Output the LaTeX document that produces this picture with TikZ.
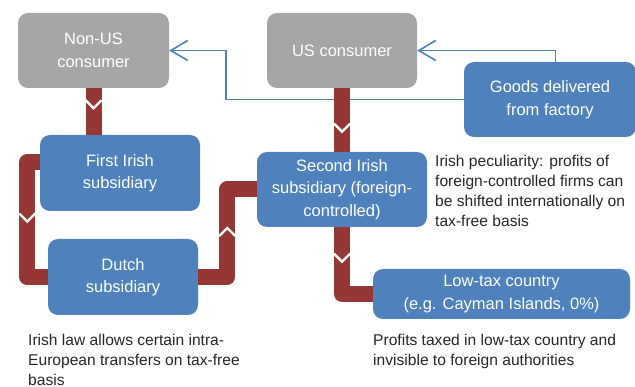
\documentclass[tikz,border=0pt]{standalone}
\usepackage{fontspec}
\setmainfont{Liberation Sans}
\usetikzlibrary{arrows.meta, decorations.markings}
\definecolor{boxblue}{HTML}{4F81BD}
\definecolor{boxgray}{HTML}{A6A6A6}
\definecolor{flowred}{HTML}{953735}
\definecolor{notegray}{HTML}{262626}

\begin{document}
\begin{tikzpicture}[x=1pt, y=-1pt] \tikzset{>={Straight Barb[length=17pt,width=20pt,line width=1.6pt]},
  unit/.style={rectangle, rounded corners=10pt, fill=boxblue, text=white, align=center, inner sep=0pt, font=\fontsize{16.5}{22.5}\selectfont},
  grayunit/.style={unit, fill=boxgray},
  note/.style={anchor=north west, align=left, inner sep=0pt, text=notegray, font=\fontsize{15.6}{20}\selectfont},
  flow/.style={draw=flowred, line width=16pt, line join=round, postaction={decorate},
    decoration={markings, mark=at position #1 with {\draw[white, line width=2.4pt, line join=miter] (-4,-8) -- (4,0) -- (-4,8);}}},
  goodsline/.style={draw=boxblue, line width=1.8pt, ->}}
\useasboundingbox (0,0) rectangle (635,387);
\node[grayunit, minimum width=151pt, minimum height=75pt] (nonus) at (93.5,50.5) {Non-US\\consumer};
\node[grayunit, minimum width=150pt, minimum height=75pt] (us) at (342,50.5) {US consumer};
\node[unit, minimum width=172pt, minimum height=75pt] (goods) at (550,99.5) {Goods delivered\\from factory};
\node[unit, minimum width=160pt, minimum height=76pt] (first) at (120,173) {First Irish\\subsidiary};
\node[unit, minimum width=170pt, minimum height=75pt] (second) at (342,189.5) {Second Irish\\subsidiary (foreign-\\controlled)};
\node[unit, minimum width=150pt, minimum height=76pt] (dutch) at (123,277) {Dutch\\subsidiary};
\node[unit, minimum width=257pt, minimum height=50pt] (lowtax) at (501.5,294) {Low-tax country\\(e.g. Cayman Islands, 0\%)};
\draw[goodsline] (goods.west) -- ++(-238,0) |- (nonus.east);
\draw[goodsline] ([xshift=5.5pt]goods.north) |- (us.east);
\draw[flow=16pt] (nonus.south) -- (nonus.south |- first.north);
\draw[flow=68pt] ([yshift=11pt]first.west) -- ++(-12.5,0) |- (dutch.west);
\draw[flow=74pt] (dutch.east) -- ++(29,0) |- (second.west);
\draw[flow=39.5pt] (us.south) -- (second.north);
\draw[flow=30.5pt] (second.south) |- (lowtax.west);
\node[note] (peculiar) at (435,155) {Irish peculiarity: profits of\\foreign-controlled firms can\\be shifted internationally on\\tax-free basis};
\node[note] (irishlaw) at (28,334) {Irish law allows certain intra-\\European transfers on tax-free\\basis};
\node[note] (profits) at (373,334) {Profits taxed in low-tax country and\\invisible to foreign authorities};
\end{tikzpicture}
\end{document}
